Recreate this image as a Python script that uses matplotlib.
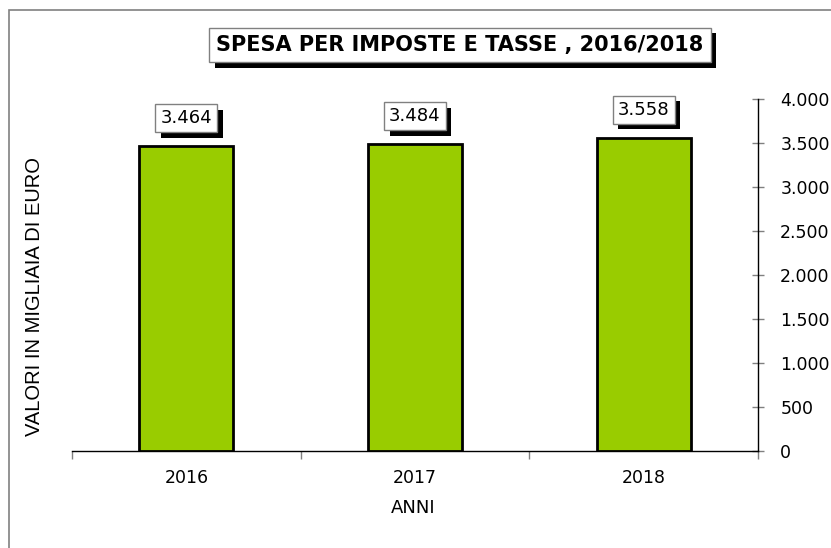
import numpy as np
import matplotlib.pyplot as plt
from matplotlib.patches import Rectangle
import matplotlib.patheffects as pe

anni = ["2016", "2017", "2018"]
valori = [3464, 3484, 3558]
etichette = ["3.464", "3.484", "3.558"]
yticks = [0, 500, 1000, 1500, 2000, 2500, 3000, 3500, 4000]
ytick_labels = ["0", "500", "1.000", "1.500", "2.000", "2.500", "3.000", "3.500", "4.000"]

W, H = 831, 548
fig = plt.figure(figsize=(W / 100, H / 100), dpi=100)
fig.patch.set_facecolor("white")

# outer frame (only top and left visible)
fig.add_artist(Rectangle((9 / W, -0.1), 1.2, (H - 10) / H + 0.1, transform=fig.transFigure,
                         fill=False, edgecolor="#808080", linewidth=1.2))

ax = fig.add_axes([72 / W, (H - 451) / H, (758 - 72) / W, (451 - 99) / H])
x = np.arange(len(anni))
ax.bar(x, valori, width=0.41, color="#99CC00", edgecolor="black", linewidth=2, zorder=3)
ax.set_xlim(-0.5, 2.5)
ax.set_ylim(0, 4000)

for s in ["top", "left"]:
    ax.spines[s].set_visible(False)
ax.spines["right"].set_position(("data", 2.5))
ax.spines["bottom"].set_linewidth(1)
ax.spines["right"].set_linewidth(1)

ax.yaxis.tick_right()
ax.set_yticks(yticks)
ax.set_yticklabels(ytick_labels, fontsize=12.5)
ax.tick_params(axis="y", direction="inout", length=8, width=1, color="#808080", pad=12)

ax.set_xticks([-0.5, 0.5, 1.5, 2.5])
ax.set_xticklabels([])
ax.set_xticks(x, minor=True)
ax.set_xticklabels(anni, minor=True, fontsize=12.5)
ax.tick_params(axis="x", which="major", direction="out", length=6, width=1, color="#808080")
ax.tick_params(axis="x", which="minor", length=0, pad=13)

fig.text(413 / W, 1 - 508 / H, "ANNI", ha="center", va="center", fontsize=13)
fig.text(35 / W, 1 - 296 / H, "VALORI IN MIGLIAIA DI EURO", rotation=90,
         ha="center", va="center", fontsize=14.5, family="Liberation Sans")

shadow = [pe.withSimplePatchShadow(offset=(4, -4), shadow_rgbFace="black", alpha=1.0)]
for xi, v, lab in zip(x, valori, etichette):
    ax.text(xi, v + 320, lab, ha="center", va="center", fontsize=13, zorder=5,
            bbox=dict(boxstyle="square,pad=0.28", facecolor="white", edgecolor="#808080",
                      linewidth=1, path_effects=shadow))

fig.text(460 / W, 1 - 45 / H, "SPESA PER IMPOSTE E TASSE , 2016/2018", ha="center", va="center",
         fontsize=15, fontweight="bold",
         bbox=dict(boxstyle="square,pad=0.35", facecolor="white", edgecolor="#808080",
                   linewidth=1, path_effects=shadow))

fig.savefig("out.png", dpi=100)
